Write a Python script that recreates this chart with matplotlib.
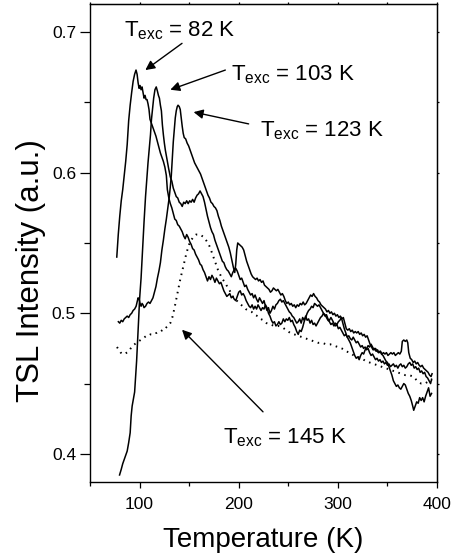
import matplotlib
matplotlib.use("Agg")
import matplotlib.pyplot as plt

plt.rcParams["font.family"] = ["Liberation Sans", "DejaVu Sans"]
plt.rcParams["mathtext.fontset"] = "custom"
plt.rcParams["mathtext.rm"] = "Liberation Sans"
plt.rcParams["mathtext.it"] = "Liberation Sans"

# (temperature K, TSL intensity a.u.) for each excitation temperature
glow_82k = [
    (77.0, 0.540), (78.5, 0.556), (80.0, 0.569), (81.5, 0.580), (83.0, 0.588), (84.5, 0.598),
    (86.0, 0.608), (87.5, 0.620), (89.0, 0.637), (90.5, 0.648), (92.0, 0.657), (93.5, 0.665),
    (95.0, 0.670), (96.4, 0.673), (97.5, 0.670), (98.5, 0.664), (99.5, 0.660), (100.5, 0.662),
    (101.5, 0.659), (102.5, 0.661), (103.5, 0.657), (104.5, 0.653), (105.5, 0.655), (106.5, 0.652),
    (107.5, 0.652), (108.5, 0.649), (109.5, 0.645), (110.5, 0.638), (112.0, 0.635), (113.5, 0.632),
    (115.0, 0.629), (116.5, 0.626), (118.0, 0.622), (119.5, 0.618), (121.0, 0.614), (122.5, 0.611),
    (124.0, 0.608), (125.5, 0.604), (127.0, 0.598), (128.0, 0.588), (129.5, 0.582), (131.0, 0.578),
    (132.5, 0.575), (134.0, 0.571), (135.5, 0.567), (137.0, 0.566), (138.5, 0.563), (140.0, 0.562),
    (141.5, 0.560), (143.0, 0.558), (144.5, 0.555), (146.0, 0.553), (147.5, 0.556), (149.0, 0.554),
    (150.5, 0.551), (152.0, 0.549), (153.5, 0.546), (155.0, 0.545), (156.5, 0.542), (158.0, 0.540),
    (159.5, 0.538), (161.0, 0.535), (162.5, 0.534), (164.0, 0.531), (165.5, 0.529), (167.0, 0.526),
    (168.5, 0.523), (170.0, 0.526), (171.5, 0.524), (173.0, 0.527), (174.5, 0.525), (176.0, 0.522),
    (177.5, 0.525), (179.0, 0.523), (180.5, 0.521), (182.0, 0.522), (183.5, 0.519), (185.0, 0.516),
    (186.5, 0.514), (188.0, 0.512), (189.5, 0.513), (191.0, 0.514), (192.5, 0.511), (194.0, 0.512),
    (195.5, 0.510), (197.0, 0.509), (198.5, 0.512), (200.0, 0.515), (201.5, 0.516), (203.0, 0.513),
    (204.5, 0.514), (206.0, 0.512), (207.5, 0.509), (209.0, 0.507), (210.5, 0.505), (212.0, 0.504),
    (213.5, 0.506), (215.0, 0.503), (216.5, 0.505), (218.0, 0.503), (219.5, 0.506), (221.0, 0.504),
    (222.5, 0.502), (224.0, 0.504), (225.5, 0.503), (227.0, 0.506), (228.5, 0.504), (230.0, 0.500),
    (231.5, 0.498), (233.0, 0.495), (234.5, 0.493), (236.0, 0.494), (237.5, 0.491), (239.0, 0.492),
    (240.5, 0.494), (242.0, 0.492), (243.5, 0.493), (245.0, 0.496), (246.5, 0.494), (248.0, 0.496),
    (249.5, 0.495), (251.0, 0.497), (252.5, 0.494), (254.0, 0.495), (255.5, 0.492), (257.0, 0.490),
    (258.5, 0.487), (260.0, 0.485), (261.5, 0.488), (263.0, 0.487), (264.5, 0.490), (266.0, 0.494),
    (267.5, 0.497), (269.0, 0.500), (270.5, 0.502), (272.0, 0.503), (273.5, 0.505), (275.0, 0.504),
    (276.5, 0.507), (278.0, 0.506), (279.5, 0.505), (281.0, 0.506), (282.5, 0.504), (284.0, 0.502),
    (285.5, 0.500), (287.0, 0.499), (288.5, 0.497), (290.0, 0.495), (291.5, 0.494), (293.0, 0.492),
    (294.5, 0.493), (296.0, 0.491), (297.5, 0.493), (299.0, 0.492), (300.5, 0.494), (302.0, 0.495),
    (303.5, 0.497), (305.0, 0.493), (306.5, 0.489), (308.0, 0.486), (309.5, 0.483), (311.0, 0.481),
    (312.5, 0.479), (314.0, 0.476), (315.5, 0.473), (317.0, 0.470), (318.5, 0.468), (320.0, 0.469),
    (321.5, 0.467), (323.0, 0.470), (324.5, 0.472), (326.0, 0.471), (327.5, 0.474), (329.0, 0.475),
    (330.5, 0.477), (332.0, 0.476), (333.5, 0.478), (335.0, 0.476), (336.5, 0.474), (338.0, 0.475),
    (339.5, 0.473), (341.0, 0.472), (342.5, 0.473), (344.0, 0.471), (345.5, 0.470), (347.0, 0.468),
    (348.5, 0.466), (350.0, 0.465), (351.5, 0.462), (353.0, 0.459), (354.5, 0.456), (356.0, 0.452),
    (357.5, 0.450), (359.0, 0.448), (360.5, 0.449), (362.0, 0.447), (363.5, 0.446), (365.0, 0.448),
    (366.5, 0.450), (368.0, 0.449), (369.5, 0.446), (371.0, 0.443), (372.5, 0.441), (374.0, 0.438),
    (375.5, 0.434), (376.5, 0.431), (378.0, 0.434), (379.5, 0.437), (381.0, 0.436), (382.5, 0.440),
    (384.0, 0.438), (385.5, 0.440), (387.0, 0.437), (388.5, 0.441), (390.0, 0.444), (391.5, 0.447),
    (393.0, 0.441), (394.5, 0.443),
]

glow_103k = [
    (79.8, 0.385), (81.5, 0.389), (83.0, 0.393), (84.5, 0.396), (86.0, 0.399), (87.5, 0.402),
    (89.0, 0.408), (90.5, 0.415), (91.5, 0.427), (92.5, 0.434), (94.0, 0.440), (95.0, 0.444),
    (96.0, 0.455), (97.0, 0.466), (98.0, 0.480), (99.0, 0.495), (100.0, 0.510), (101.5, 0.525),
    (103.0, 0.545), (104.5, 0.565), (106.0, 0.583), (107.4, 0.597), (108.5, 0.607), (109.8, 0.617),
    (111.0, 0.627), (112.0, 0.638), (113.0, 0.645), (114.2, 0.653), (115.5, 0.659), (116.8, 0.661),
    (118.0, 0.658), (119.0, 0.655), (120.0, 0.653), (121.0, 0.648), (122.0, 0.644), (123.0, 0.634),
    (124.0, 0.627), (125.0, 0.621), (126.0, 0.616), (127.0, 0.612), (128.0, 0.608), (129.3, 0.603),
    (131.0, 0.597), (132.5, 0.594), (134.0, 0.589), (135.5, 0.586), (137.0, 0.583), (138.5, 0.582),
    (140.0, 0.579), (141.5, 0.578), (143.0, 0.576), (144.5, 0.579), (146.0, 0.578), (147.5, 0.580),
    (149.0, 0.578), (150.5, 0.580), (152.0, 0.579), (153.5, 0.581), (155.0, 0.579), (156.5, 0.582),
    (158.0, 0.584), (159.5, 0.585), (161.0, 0.587), (162.5, 0.585), (164.0, 0.583), (165.5, 0.579),
    (167.0, 0.574), (168.5, 0.569), (170.0, 0.565), (171.5, 0.561), (173.0, 0.558), (174.5, 0.556),
    (176.0, 0.552), (177.5, 0.549), (179.0, 0.546), (180.5, 0.543), (182.0, 0.540), (183.5, 0.537),
    (185.0, 0.536), (186.5, 0.533), (188.0, 0.531), (189.5, 0.530), (191.0, 0.528), (192.5, 0.526),
    (194.0, 0.529), (195.5, 0.531), (197.0, 0.532), (198.5, 0.530), (200.0, 0.527), (201.5, 0.524),
    (203.0, 0.525), (204.5, 0.522), (206.0, 0.519), (207.5, 0.520), (209.0, 0.517), (210.5, 0.515),
    (212.0, 0.513), (213.5, 0.514), (215.0, 0.511), (216.5, 0.513), (218.0, 0.510), (219.5, 0.508),
    (221.0, 0.511), (222.5, 0.509), (224.0, 0.507), (225.5, 0.509), (227.0, 0.505), (228.5, 0.502),
    (230.0, 0.504), (231.5, 0.500), (233.0, 0.502), (234.5, 0.505), (236.0, 0.503), (237.5, 0.506),
    (239.0, 0.507), (240.5, 0.509), (242.0, 0.510), (243.5, 0.508), (245.0, 0.509), (246.5, 0.507),
    (248.0, 0.505), (249.5, 0.503), (251.0, 0.501), (252.5, 0.500), (254.0, 0.498), (255.5, 0.497),
    (257.0, 0.495), (258.5, 0.493), (260.0, 0.494), (261.5, 0.496), (263.0, 0.493), (264.5, 0.497),
    (266.0, 0.495), (267.5, 0.498), (269.0, 0.495), (270.5, 0.496), (272.0, 0.493), (273.5, 0.495),
    (275.0, 0.492), (276.5, 0.493), (278.0, 0.491), (279.5, 0.493), (281.0, 0.495), (282.5, 0.497),
    (284.0, 0.498), (285.5, 0.500), (287.0, 0.498), (288.5, 0.499), (290.0, 0.496), (291.5, 0.495),
    (293.0, 0.497), (294.5, 0.495), (296.0, 0.493), (297.5, 0.491), (299.0, 0.492), (300.5, 0.489),
    (302.0, 0.490), (303.5, 0.488), (305.0, 0.486), (306.5, 0.484), (308.0, 0.485), (309.5, 0.483),
    (311.0, 0.484), (312.5, 0.482), (314.0, 0.481), (315.5, 0.483), (317.0, 0.481), (318.5, 0.479),
    (320.0, 0.480), (321.5, 0.478), (323.0, 0.476), (324.5, 0.477), (326.0, 0.475), (327.5, 0.476),
    (329.0, 0.474), (330.5, 0.475), (332.0, 0.472), (333.5, 0.470), (335.0, 0.471), (336.5, 0.469),
    (338.0, 0.467), (339.5, 0.468), (341.0, 0.466), (342.5, 0.467), (344.0, 0.465), (345.5, 0.466),
    (347.0, 0.464), (348.5, 0.465), (350.0, 0.463), (351.5, 0.464), (353.0, 0.462), (354.5, 0.463),
    (356.0, 0.464), (357.5, 0.462), (359.0, 0.463), (360.5, 0.461), (362.0, 0.463), (363.5, 0.464),
    (365.0, 0.462), (366.5, 0.463), (368.0, 0.461), (369.5, 0.462), (371.0, 0.464), (372.5, 0.465),
    (374.0, 0.463), (375.5, 0.464), (377.0, 0.461), (378.5, 0.462), (380.0, 0.460), (381.5, 0.461),
    (383.0, 0.458), (384.5, 0.459), (386.0, 0.457), (387.5, 0.458), (389.0, 0.455), (390.5, 0.454),
    (392.0, 0.452), (393.5, 0.450), (394.5, 0.453),
]

glow_123k = [
    (78.6, 0.494), (80.0, 0.493), (81.5, 0.495), (83.0, 0.494), (84.5, 0.496), (86.0, 0.497),
    (87.5, 0.498), (89.0, 0.497), (90.5, 0.499), (92.0, 0.500), (93.5, 0.502), (95.0, 0.503),
    (96.5, 0.505), (97.5, 0.508), (98.5, 0.511), (99.5, 0.510), (100.5, 0.507), (101.5, 0.505),
    (102.5, 0.507), (103.5, 0.506), (104.5, 0.504), (106.0, 0.505), (107.5, 0.507), (109.0, 0.508),
    (110.5, 0.507), (112.0, 0.509), (113.5, 0.511), (115.0, 0.515), (116.5, 0.519), (118.0, 0.525),
    (119.5, 0.530), (121.0, 0.536), (122.5, 0.545), (124.0, 0.552), (125.5, 0.560), (127.0, 0.567),
    (128.5, 0.575), (130.0, 0.583), (131.0, 0.590), (132.0, 0.598), (133.0, 0.610), (134.0, 0.622),
    (135.0, 0.631), (136.0, 0.639), (137.0, 0.644), (138.0, 0.647), (138.8, 0.648), (140.0, 0.647),
    (141.0, 0.645), (142.0, 0.639), (143.0, 0.633), (144.0, 0.628), (145.0, 0.625), (146.5, 0.624),
    (148.0, 0.621), (149.5, 0.619), (151.0, 0.616), (152.5, 0.613), (154.0, 0.610), (155.5, 0.607),
    (157.0, 0.605), (158.5, 0.603), (160.0, 0.601), (161.5, 0.599), (163.0, 0.596), (164.5, 0.593),
    (166.0, 0.590), (167.5, 0.587), (169.0, 0.584), (170.5, 0.582), (172.0, 0.579), (173.5, 0.578),
    (175.0, 0.576), (176.5, 0.575), (178.0, 0.573), (179.5, 0.569), (181.0, 0.566), (182.5, 0.562),
    (184.0, 0.559), (185.5, 0.556), (187.0, 0.553), (188.5, 0.550), (190.0, 0.547), (191.5, 0.543),
    (193.0, 0.538), (194.5, 0.533), (196.0, 0.529), (197.0, 0.535), (198.0, 0.545), (199.0, 0.550),
    (200.5, 0.549), (202.0, 0.548), (203.5, 0.547), (205.0, 0.545), (206.5, 0.541), (208.0, 0.537),
    (209.5, 0.534), (211.0, 0.531), (212.5, 0.528), (214.0, 0.526), (215.5, 0.525), (217.0, 0.524),
    (218.5, 0.525), (220.0, 0.523), (221.5, 0.524), (223.0, 0.522), (224.5, 0.523), (226.0, 0.520),
    (227.5, 0.519), (229.0, 0.518), (230.5, 0.517), (232.0, 0.515), (233.5, 0.516), (235.0, 0.518),
    (236.5, 0.517), (238.0, 0.516), (239.5, 0.517), (241.0, 0.515), (242.5, 0.513), (244.0, 0.514),
    (245.5, 0.512), (247.0, 0.509), (248.5, 0.507), (250.0, 0.508), (251.5, 0.506), (253.0, 0.507),
    (254.5, 0.505), (256.0, 0.506), (257.5, 0.504), (259.0, 0.506), (260.5, 0.505), (262.0, 0.507),
    (263.5, 0.506), (265.0, 0.508), (266.5, 0.506), (268.0, 0.507), (269.5, 0.509), (271.0, 0.511),
    (272.5, 0.513), (274.0, 0.512), (275.5, 0.514), (277.0, 0.512), (278.5, 0.511), (280.0, 0.509),
    (281.5, 0.508), (283.0, 0.506), (284.5, 0.505), (286.0, 0.504), (287.5, 0.503), (289.0, 0.501),
    (290.5, 0.502), (292.0, 0.500), (293.5, 0.501), (295.0, 0.499), (296.5, 0.500), (298.0, 0.498),
    (299.5, 0.499), (301.0, 0.497), (302.5, 0.498), (304.0, 0.496), (305.5, 0.497), (307.0, 0.493),
    (308.5, 0.489), (310.0, 0.488), (311.5, 0.489), (313.0, 0.487), (314.5, 0.488), (316.0, 0.486),
    (317.5, 0.487), (319.0, 0.486), (320.5, 0.487), (322.0, 0.485), (323.5, 0.486), (325.0, 0.484),
    (326.5, 0.485), (328.0, 0.483), (329.5, 0.484), (331.0, 0.481), (332.5, 0.478), (334.0, 0.476),
    (335.5, 0.474), (337.0, 0.475), (338.5, 0.473), (340.0, 0.474), (341.5, 0.472), (343.0, 0.473),
    (344.5, 0.471), (346.0, 0.472), (347.5, 0.471), (349.0, 0.472), (350.5, 0.470), (352.0, 0.471),
    (353.5, 0.472), (355.0, 0.471), (356.5, 0.472), (358.0, 0.470), (359.5, 0.471), (361.0, 0.472),
    (362.5, 0.471), (364.0, 0.473), (365.0, 0.480), (366.5, 0.481), (368.0, 0.480), (369.5, 0.481),
    (370.5, 0.479), (371.5, 0.472), (373.0, 0.468), (374.5, 0.467), (376.0, 0.465), (377.5, 0.466),
    (379.0, 0.464), (380.5, 0.465), (382.0, 0.463), (383.5, 0.462), (385.0, 0.463), (386.5, 0.461),
    (388.0, 0.460), (389.5, 0.459), (391.0, 0.458), (392.5, 0.456), (394.0, 0.455), (395.0, 0.457),
]

glow_145k = [
    (77.2, 0.476), (79.0, 0.474), (81.0, 0.472), (83.0, 0.471), (85.0, 0.471), (87.0, 0.472),
    (89.0, 0.473), (91.0, 0.475), (93.0, 0.477), (95.0, 0.478), (97.0, 0.479), (99.0, 0.480),
    (101.0, 0.481), (103.0, 0.482), (105.0, 0.483), (107.0, 0.484), (109.0, 0.484), (111.0, 0.485),
    (113.0, 0.485), (115.0, 0.486), (117.0, 0.486), (119.0, 0.487), (121.0, 0.487), (123.0, 0.488),
    (125.0, 0.488), (127.0, 0.490), (129.0, 0.491), (131.0, 0.493), (133.0, 0.497), (135.0, 0.503),
    (137.0, 0.510), (139.0, 0.517), (141.0, 0.524), (143.0, 0.530), (145.0, 0.536), (147.0, 0.542),
    (149.0, 0.547), (151.0, 0.551), (153.0, 0.553), (155.0, 0.555), (157.0, 0.556), (159.0, 0.556),
    (161.0, 0.556), (163.0, 0.555), (165.0, 0.554), (167.0, 0.552), (169.0, 0.550), (171.0, 0.547),
    (173.0, 0.543), (175.0, 0.539), (177.0, 0.535), (179.0, 0.531), (181.0, 0.528), (183.0, 0.525),
    (185.0, 0.523), (187.0, 0.521), (189.0, 0.518), (191.0, 0.516), (193.0, 0.513), (195.0, 0.511),
    (198.0, 0.509), (201.0, 0.507), (204.0, 0.505), (207.0, 0.503), (210.0, 0.502), (213.0, 0.501),
    (216.0, 0.499), (219.0, 0.498), (222.0, 0.496), (225.0, 0.495), (228.0, 0.493), (232.0, 0.492),
    (236.0, 0.491), (240.0, 0.491), (244.0, 0.490), (248.0, 0.488), (252.0, 0.486), (256.0, 0.485),
    (260.0, 0.484), (264.0, 0.483), (268.0, 0.482), (272.0, 0.481), (276.0, 0.480), (280.0, 0.479),
    (284.0, 0.479), (288.0, 0.478), (292.0, 0.478), (296.0, 0.477), (300.0, 0.476), (304.0, 0.475),
    (308.0, 0.473), (312.0, 0.472), (316.0, 0.470), (320.0, 0.469), (324.0, 0.468), (328.0, 0.466),
    (332.0, 0.465), (336.0, 0.464), (340.0, 0.463), (344.0, 0.462), (348.0, 0.461), (352.0, 0.460),
    (356.0, 0.459), (360.0, 0.458), (364.0, 0.457), (368.0, 0.456), (372.0, 0.456), (376.0, 0.455),
    (380.0, 0.452), (384.0, 0.450), (388.0, 0.450), (392.0, 0.452), (395.0, 0.453),
]

# annotation texts: (label, text anchor T, text anchor I, arrow tail T, arrow tail I, arrow head T, arrow head I)
labels = [
    (r"T$_{\mathrm{exc}}$ = 82 K", 83.9, 0.6966, 142.8, 0.692, 105.8, 0.673),
    (r"T$_{\mathrm{exc}}$ = 103 K", 192.2, 0.6653, 186.5, 0.673, 131.0, 0.659),
    (r"T$_{\mathrm{exc}}$ = 123 K", 221.8, 0.6257, 210.0, 0.6347, 154.5, 0.6431),
    (r"T$_{\mathrm{exc}}$ = 145 K", 184.2, 0.4078, 224.5, 0.4299, 142.8, 0.4883),
]

x_ticks = [100, 200, 300, 400]
y_ticks = [0.4, 0.5, 0.6, 0.7]

fig = plt.figure(figsize=(4.53, 5.60), dpi=100)
ax = fig.add_axes([0.1987, 0.1393, 0.7660, 0.8536])

for curve in (glow_82k, glow_103k, glow_123k):
    t, s = zip(*curve)
    ax.plot(t, s, color="black", lw=1.1)

t, s = zip(*glow_145k)
ax.plot(t, s, color="black", lw=1.4, linestyle=(0, (0.8, 2.4)))

for text, tx, ty, ax0, ay0, hx, hy in labels:
    ax.text(tx, ty, text, fontsize=16, ha="left", va="baseline")
    ax.annotate("", xy=(hx, hy), xytext=(ax0, ay0),
                arrowprops=dict(arrowstyle="-|>", color="black", lw=1.0,
                                mutation_scale=14, shrinkA=0, shrinkB=0))

ax.set_xlim(50, 400)
ax.set_ylim(0.38, 0.72)
ax.set_xticks(x_ticks)
ax.set_xticks([50, 150, 250, 350], minor=True)
ax.set_yticks(y_ticks)
ax.set_yticks([0.45, 0.55, 0.65], minor=True)
ax.set_yticklabels([f"{v:.1f}" for v in y_ticks])

ax.tick_params(axis="both", which="both", direction="out", labelsize=12.5, width=0.9)
ax.tick_params(axis="y", which="major", length=7, pad=3)
ax.tick_params(axis="y", which="minor", length=4)
ax.tick_params(axis="x", which="major", length=4.5, pad=6.5)
ax.tick_params(axis="x", which="minor", length=3)

# short tick stubs on the top and right frame edges
sec_x = ax.secondary_xaxis("top")
sec_x.set_xticks(x_ticks)
sec_x.set_xticks([50, 150, 250, 350], minor=True)
sec_x.tick_params(which="both", direction="out", length=1.5, width=0.9, labeltop=False)
sec_y = ax.secondary_yaxis("right")
sec_y.set_yticks(y_ticks)
sec_y.set_yticks([0.45, 0.55, 0.65], minor=True)
sec_y.tick_params(which="both", direction="out", length=1.5, width=0.9, labelright=False)

for sp in ax.spines.values():
    sp.set_linewidth(1.0)

ax.set_xlabel("Temperature (K)", fontsize=20)
ax.set_ylabel("TSL Intensity (a.u.)", fontsize=22.5)
ax.xaxis.set_label_coords(0.498, -0.094)
ax.yaxis.set_label_coords(-0.128, 0.443)

fig.savefig("out.png", dpi=100)
